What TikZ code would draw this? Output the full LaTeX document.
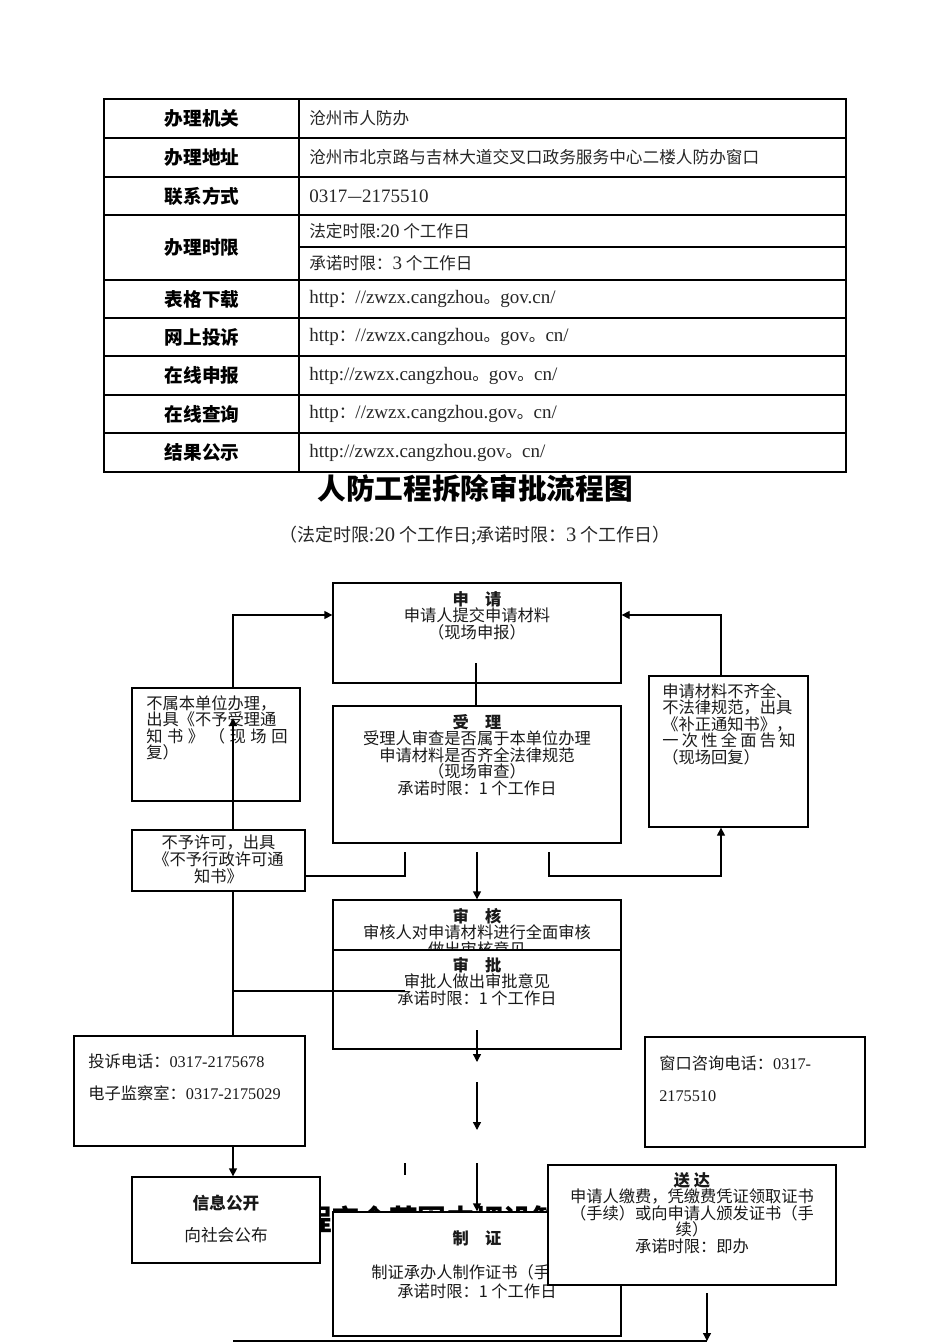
\documentclass[tikz,border=0pt]{standalone}
\usepackage{fontspec}
\setmainfont{Noto Sans CJK SC}
\newfontfamily\lat{Liberation Serif}[Scale=1.14]
\newfontfamily\latb{Liberation Serif}
\usetikzlibrary{arrows.meta,fit}
\begin{document}
\begin{tikzpicture}[x=0.75pt,y=-0.75pt,
  box/.style={draw=black,line width=1pt,fill=white,inner sep=0pt},
  ln/.style={draw=black,line width=1pt},
  arr/.style={ln,-{Triangle[length=6pt,width=6pt]}},
  lbl/.style={font=\fontsize{14pt}{16pt}\selectfont\bfseries,inner sep=0pt},
  cell/.style={font=\fontsize{12.5pt}{14pt}\selectfont,anchor=west,inner sep=0pt,text=black!85},
  ft/.style={font=\fontsize{12.2pt}{12.4pt}\selectfont,align=center,inner sep=0pt,anchor=north,text=black!90},
  ftl/.style={ft,align=left,anchor=north west},
  bigt/.style={font=\fontsize{21.5pt}{24pt}\selectfont\bfseries,inner sep=0pt},
]
\useasboundingbox (0,0) rectangle (950,1344);
\fill[white] (0,0) rectangle (950,1344);

% ---------------- table ----------------
\draw[line width=1pt] (104,99) rectangle (846,472);
\draw[line width=1pt] (299,99) -- (299,472);
\foreach \yy in {138,177,215,280,318,356,395,433}
  \draw[line width=1pt] (104,\yy) -- (846,\yy);
\draw[line width=0.8pt] (299,247) -- (846,247);

\node[lbl] (l1) at (202,118.5) {办理机关};
\node[lbl] (l2) at (202,157.5) {办理地址};
\node[lbl] (l3) at (202,196) {联系方式};
\node[lbl] (l4) at (202,247.5) {办理时限};
\node[lbl] (l5) at (202,299) {表格下载};
\node[lbl] (l6) at (202,337) {网上投诉};
\node[lbl] (l7) at (202,375.5) {在线申报};
\node[lbl] (l8) at (202,414) {在线查询};
\node[lbl] (l9) at (202,452.5) {结果公示};

\node[cell] (r1) at (309,118.5) {沧州市人防办};
\node[cell] (r2) at (309,157.5) {沧州市北京路与吉林大道交叉口政务服务中心二楼人防办窗口};
\node[cell] (r3) at (309,196) {{\lat 0317}—{\lat 2175510}};
\node[cell] (r4a) at (309,231) {法定时限:{\lat 20} 个工作日};
\node[cell] (r4b) at (309,263) {承诺时限：{\lat 3} 个工作日};
\node[cell] (r5) at (309,299) {{\lat http}：{\lat //zwzx.cangzhou}。{\lat gov.cn/}};
\node[cell] (r6) at (309,337) {{\lat http}：{\lat //zwzx.cangzhou}。{\lat gov}。{\lat cn/}};
\node[cell] (r7) at (309,375.5) {{\lat http://zwzx.cangzhou}。{\lat gov}。{\lat cn/}};
\node[cell] (r8) at (309,414) {{\lat http}：{\lat //zwzx.cangzhou.gov}。{\lat cn/}};
\node[cell] (r9) at (309,452.5) {{\lat http://zwzx.cangzhou.gov}。{\lat cn/}};

% ---------------- titles ----------------
\node[bigt] (title) at (475,488) {人防工程拆除审批流程图};
\node[font=\fontsize{13.5pt}{15pt}\selectfont,inner sep=0pt,text=black!85] (sub) at (475,536)
  {（法定时限:{\lat 20} 个工作日;承诺时限：{\lat 3} 个工作日）};

% helper coordinates
\coordinate (kL) at (233,615);
\coordinate (kR) at (721,615);

% ---------------- upper boxes ----------------
\node[box,fit={(333,583)(621,683)}] (sq) {};
\node[ft] (sqt) at (477,591) {\textbf{申\quad 请}\\申请人提交申请材料\\（现场申报）};

\node[box,fit={(132,688)(300,801)}] (bs) {};
\node[ftl] (bst) at (146,695) {不属本单位办理，\\出具《不予受理通\\\makebox[106pt][s]{知\hfil 书\hfil 》\hfil（\hfil 现\hfil 场\hfil 回}\\复）};

\node[box,fit={(333,706)(621,843)}] (sl) {};
\node[ft] (slt) at (477,714) {\textbf{受\quad 理}\\受理人审查是否属于本单位办理\\申请材料是否齐全法律规范\\（现场审查）\\承诺时限：1 个工作日};

\node[box,fit={(649,676)(808,827)}] (bq) {};
\node[ftl] (bqt) at (662,683) {申请材料不齐全、\\不法律规范，出具\\《补正通知书》，\\\makebox[100pt][s]{一\hfil 次\hfil 性\hfil 全\hfil 面\hfil 告\hfil 知}\\（现场回复）};

\node[box,fit={(132,830)(305,891)}] (by) {};
\node[ft] (byt) at (218.5,835) {不予许可，出具\\《不予行政许可通\\知书》};

% connectors upper
\draw[arr] (bs.north -| kL) |- (sq.west |- kL);
\draw[arr] (bq.north -| kR) |- (sq.east |- kR);
\coordinate (s3) at (476,663);
\draw[ln] (s3) -- (sl.north -| s3);
\coordinate (u4) at (233,718);
\draw[arr] (by.north -| u4) -- (u4);
\coordinate (d5) at (405,852);
\coordinate (j5) at (405,876);
\draw[ln] (d5) -- (j5) -- (by.east |- j5);
\coordinate (d7) at (549,852);
\coordinate (j7) at (549,876);
\draw[arr] (d7) -- (j7) -| (bq.south -| kR);

% ---------------- middle boxes ----------------
\node[box,fit={(333,900)(621,990)}] (sh) {};
\node[ft] (sht) at (477,908) {\textbf{审\quad 核}\\审核人对申请材料进行全面审核\\做出审核意见};
\coordinate (d6) at (477,852);
\draw[arr] (d6) -- (sh.north -| d6);

\node[box,fit={(333,950)(621,1049)}] (sp) {};
\node[ft] (spt) at (477,957) {\textbf{审\quad 批}\\审批人做出审批意见\\承诺时限：1 个工作日};

\node[box,fit={(74,1036)(305,1146)}] (ts) {};
\node[ft,align=left,anchor=north west,font=\fontsize{12.2pt}{23.3pt}\selectfont] (tst) at (88,1054)
  {投诉电话：{\latb 0317-2175678}\\电子监察室：{\latb 0317-2175029}};

\node[box,fit={(645,1037)(865,1147)}] (ck) {};
\node[ft,align=left,anchor=north west,font=\fontsize{12.2pt}{24pt}\selectfont] (ckt) at (659,1055)
  {窗口咨询电话：{\latb 0317-}\\{\latb 2175510}};

\draw[ln] (by.south -| kL) -- (ts.north -| kL);
\coordinate (j8) at (233,991);
\coordinate (e8) at (405,991);
\draw[ln] (j8) -- (e8);
\coordinate (d9) at (477,1030);
\coordinate (e9) at (477,1062);
\draw[arr] (d9) -- (e9);
\coordinate (d10) at (477,1082);
\coordinate (e10) at (477,1130);
\draw[arr] (d10) -- (e10);
\coordinate (d12) at (405,1163);
\coordinate (e12) at (405,1175);
\draw[ln] (d12) -- (e12);

% ---------------- lower part ----------------
\node[bigt] (title2) at (475,1220) {人防工程安全范围内埋设管道审批流程图};

\node[box,fit={(132,1177)(320,1263)}] (xx) {};
\node[ft,font=\fontsize{12.5pt}{24pt}\selectfont] (xxt) at (226,1195) {\textbf{信息公开}\\向社会公布};
\draw[arr] (ts.south -| kL) -- (xx.north -| kL);

\coordinate (d11) at (477,1163);
\node[box,fit={(333,1212)(621,1336)}] (zz) {};
\draw[arr] (d11) -- (zz.north -| d11);
\node[ft] (zzt) at (477,1230) {\textbf{制\quad 证}};
\node[ft,font=\fontsize{12.2pt}{14.6pt}\selectfont] (zzb) at (477,1264) {制证承办人制作证书（手续）\\承诺时限：1 个工作日};

\node[box,fit={(548,1165)(836,1285)}] (sd) {};
\node[ft] (sdt) at (692,1172) {\textbf{送 达}\\申请人缴费，凭缴费凭证领取证书\\（手续）或向申请人颁发证书（手\\续）\\承诺时限：即办};

\coordinate (d14) at (707,1293);
\coordinate (e14) at (707,1341);
\coordinate (b15) at (233,1341);
\draw[arr] (d14) -- (e14);
\draw[ln] (b15) -- (e14);
\end{tikzpicture}
\end{document}
